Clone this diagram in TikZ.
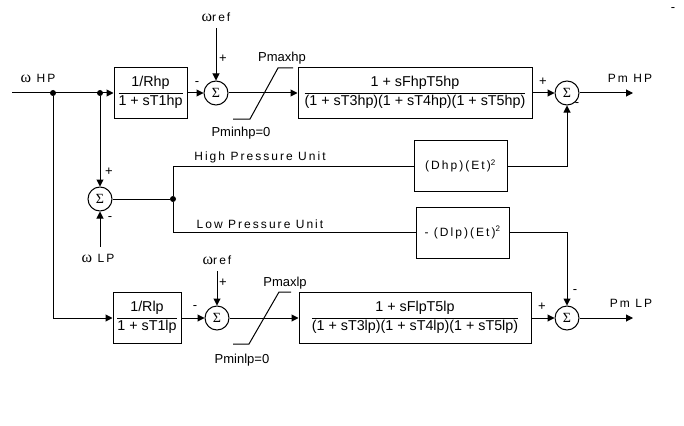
\documentclass[tikz,border=0pt]{standalone}
\usepackage{fontspec}
\setmainfont{Liberation Sans}
\newfontfamily\spacedsans[LetterSpace=17]{Liberation Sans}
\newfontfamily\greekserif{Liberation Serif}
\usepackage{xcolor}
\definecolor{govLine}{HTML}{000000}
\definecolor{govPaper}{HTML}{FFFFFF}
\usepackage{tikz}
\usetikzlibrary{arrows.meta,positioning,calc}
\newcommand{\om}{{\greekserif\fontsize{16}{16}\selectfont ω}}
\newcommand{\sig}{{\greekserif Σ}}
\newcommand{\ratio}[2]{{\setlength{\arrayrulewidth}{0.9pt}%
    \begin{tabular}{@{}c@{}}\rule[-6pt]{0pt}{16pt}#1\\\hline\rule[-5pt]{0pt}{17pt}#2\end{tabular}}}
\tikzset{
    block/.style={
        draw=govLine,
        fill=govPaper,
        rectangle,
        line width=1pt,
        inner sep=0pt,
        minimum height=51pt,
        align=center,
        font=\fontsize{14.3}{17}\selectfont
    },
    gainbox/.style={
        draw=govLine,
        rectangle,
        line width=1pt,
        inner sep=0pt,
        minimum width=93pt,
        minimum height=51pt,
        font=\spacedsans\fontsize{12}{14}\selectfont
    },
    sumnode/.style={
        draw=govLine,
        circle,
        line width=1pt,
        inner sep=0pt,
        minimum size=24pt,
        font=\fontsize{14}{16}\selectfont
    },
    junction/.style={
        circle,
        fill=govLine,
        inner sep=0pt,
        minimum size=6pt
    },
    wire/.style={
        line width=1pt,
        color=govLine
    },
    signal/.style={
        -{Triangle[length=7pt,width=7pt]},
        line width=1pt,
        color=govLine
    },
    siglabel/.style={
        font=\spacedsans\fontsize{12}{14}\selectfont,
        inner sep=0pt
    },
    reflabel/.style={
        siglabel,
        outer ysep=7pt
    },
    limlabel/.style={
        font=\fontsize{13}{15}\selectfont,
        inner sep=0pt
    },
    sign/.style={
        font=\fontsize{13}{15}\selectfont,
        inner sep=0pt
    }
}

\begin{document}
\begin{tikzpicture}[x=1pt,y=-1pt]
    \useasboundingbox (0,0) rectangle (684,425);

    \node[block, minimum width=73pt] (rhp) at (150.5,93) {\ratio{1/Rhp}{1 + sT1hp}};
    \node[sumnode] (sumhp) at (216,93) {\sig};
    \node[block, minimum width=234pt] (turbhp) at (415,93)
        {\ratio{1 + sFhpT5hp}{(1 + sT3hp)(1 + sT4hp)(1 + sT5hp)}};
    \node[sumnode] (outhp) at (567,93) {\sig};
    \coordinate (pmhp) at (633,93);

    \node[block, minimum width=68pt] (rlp) at (147,318) {\ratio{1/Rlp}{1 + sT1lp}};
    \node[sumnode] (sumlp) at (217,318) {\sig};
    \node[block, minimum width=232pt] (turblp) at (415,318)
        {\ratio{1 + sFlpT5lp}{(1 + sT3lp)(1 + sT4lp)(1 + sT5lp)}};
    \node[sumnode] (outlp) at (567,318) {\sig};
    \coordinate (pmlp) at (633,318);

    \node[sumnode] (dsum) at (100,199) {\sig};
    \node[gainbox] (dhp) at (460.5,166) {(Dhp)(Et)\textsuperscript{2}};
    \node[gainbox] (dlp) at (462.5,232.5) {- (Dlp)(Et)\textsuperscript{2}};

    \coordinate (whpin) at (12,93);
    \node[junction] (tapa) at (53,93) {};
    \node[junction] (tapb) at (100,93) {};
    \node[junction] (split) at (173,199) {};

    \node[siglabel] (whplbl) at (38,78) {\om\ HP};
    \node[reflabel] (wrefhp) at (216,17) {\om ref};
    \node[reflabel] (wreflp) at (217,260) {\om ref};
    \node[reflabel] (wlp) at (98,258) {\om\ LP};
    \node[siglabel] (pmhplbl) at (630,78) {Pm HP};
    \node[siglabel] (pmlplbl) at (631,303) {Pm LP};
    \node[siglabel] (hplbl) at (260,157) {High Pressure Unit};
    \node[siglabel] (lplbl) at (260,224) {Low Pressure Unit};

    \node[limlabel] (pmaxhp) at (282,58) {Pmaxhp};
    \node[limlabel] (pminhp) at (241,133) {Pminhp=0};
    \node[limlabel] (pmaxlp) at (285,283) {Pmaxlp};
    \node[limlabel] (pminlp) at (242,360) {Pminlp=0};

    \node[sign] (s1) at (197,84) {-};
    \node[sign] (s2) at (223,59) {+};
    \node[sign] (s3) at (543,82) {+};
    \node[sign] (s4) at (577,105) {-};
    \node[sign] (s5) at (109,172) {+};
    \node[sign] (s6) at (110,219) {-};
    \node[sign] (s7) at (542,307) {+};
    \node[sign] (s8) at (575,292) {-};
    \node[sign] (s9) at (223,283) {+};
    \node[sign] (s10) at (195,308) {-};
    \node[sign] (s11) at (673,10) {-};

    \draw[wire] (233,119) -- (250,119) -- (278,68) -- (293,68);
    \draw[wire] (233,344) -- (249,344) -- (279,292) -- (291,292);

    \draw[signal] (whpin) -- (rhp);
    \draw[signal] (tapa) |- (rlp);
    \draw[signal] (tapb) -- (dsum);
    \draw[signal] (rhp) -- (sumhp);
    \draw[signal] (wrefhp) -- (sumhp);
    \draw[signal] (sumhp) -- (turbhp);
    \draw[signal] (turbhp) -- (outhp);
    \draw[signal] (outhp) -- (pmhp);
    \draw[signal] (rlp) -- (sumlp);
    \draw[signal] (wreflp.south -| sumlp) -- (sumlp);
    \draw[signal] (sumlp) -- (turblp);
    \draw[signal] (turblp) -- (outlp);
    \draw[signal] (outlp) -- (pmlp);
    \draw[signal] (wlp.north -| dsum) -- (dsum);
    \draw[wire] (dsum) -- (split);
    \draw[wire] (split) |- (dhp);
    \draw[wire] (split) |- (dlp);
    \draw[signal] (dhp) -| (outhp);
    \draw[signal] (dlp) -| (outlp);
\end{tikzpicture}
\end{document}
